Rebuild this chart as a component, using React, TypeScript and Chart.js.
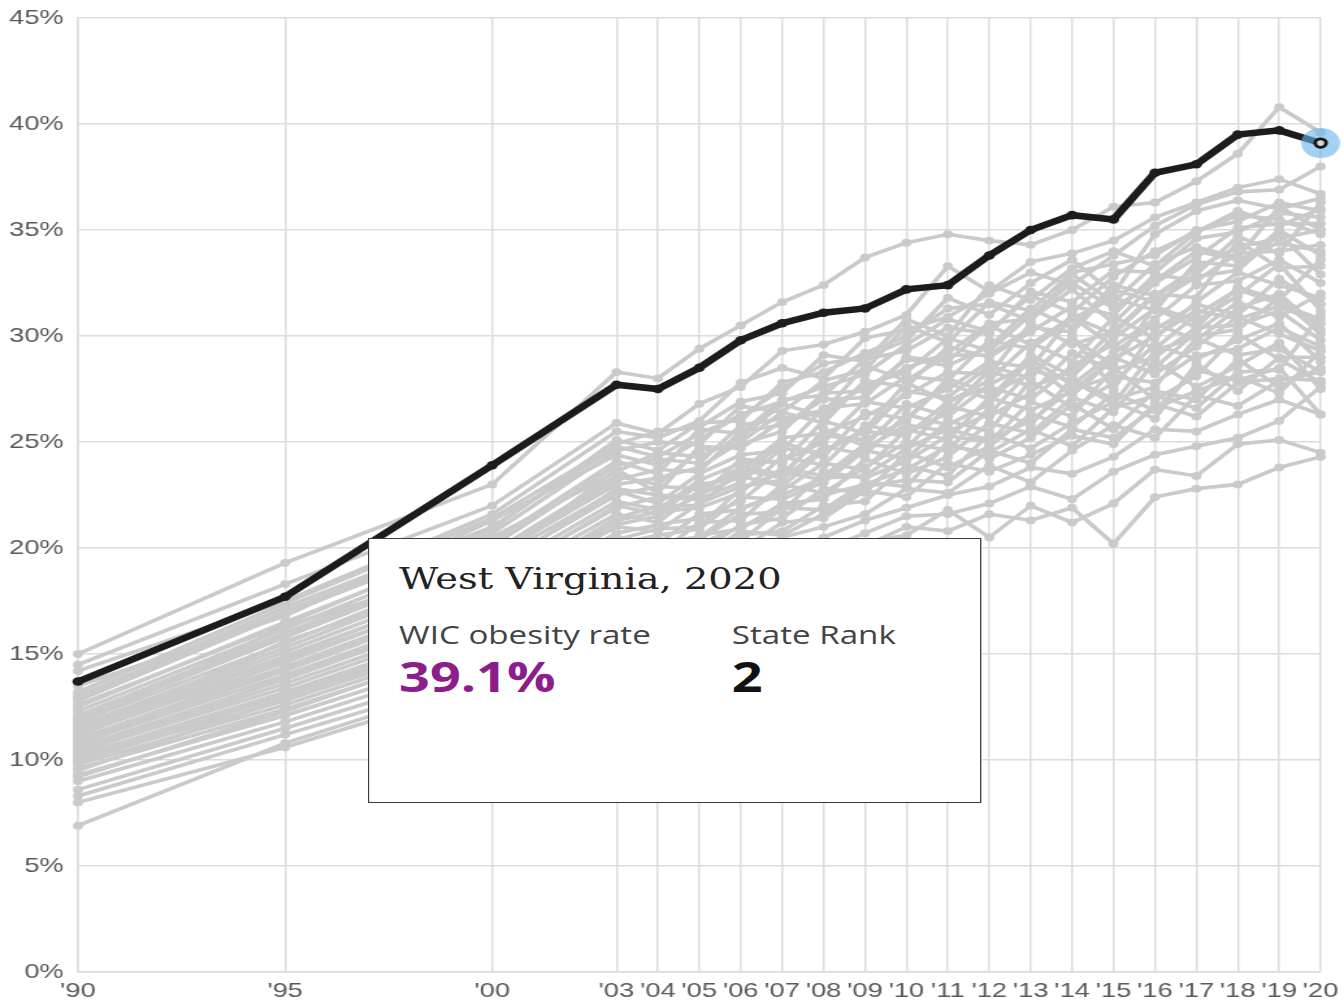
import { useEffect, useRef } from "react";
import { Chart, registerables } from "chart.js";

Chart.register(...registerables);

// ---------- data ----------
const years = [
  1990, 1995, 2000, 2003, 2004, 2005, 2006, 2007, 2008, 2009, 2010, 2011,
  2012, 2013, 2014, 2015, 2016, 2017, 2018, 2019, 2020,
];
const xTickYears = years;
const yTickValues = [0, 5, 10, 15, 20, 25, 30, 35, 40, 45];

const westVirginia = [
  13.7, 17.7, 23.9, 27.7, 27.5, 28.5, 29.8, 30.6, 31.1, 31.3, 32.2, 32.4,
  33.8, 35.0, 35.7, 35.5, 37.7, 38.1, 39.5, 39.7, 39.1,
];

const otherStates: number[][] = [
  [15.0, 19.3, 23.0, 28.3, 28.0, 29.4, 30.5, 31.6, 32.4, 33.7, 34.4, 34.8, 34.5, 34.3, 35.0, 36.1, 36.3, 37.3, 38.6, 40.8, 39.6],
  [14.5, 18.3, 22.0, 25.9, 25.4, 26.8, 27.6, 29.3, 29.6, 30.2, 31.0, 33.3, 32.1, 33.5, 33.9, 34.5, 35.6, 36.3, 37.0, 37.4, 36.7],
  [14.2, 17.5, 21.6, 25.5, 25.2, 26.0, 27.8, 28.5, 28.0, 29.9, 30.3, 30.9, 32.0, 33.0, 32.4, 33.8, 35.2, 36.2, 36.8, 36.9, 38.0],
  [13.0, 17.2, 21.0, 24.8, 24.3, 25.4, 26.2, 27.5, 28.7, 29.0, 29.8, 31.8, 31.0, 32.5, 33.6, 32.0, 34.8, 35.9, 36.4, 36.0, 36.5],
  [12.8, 16.9, 20.7, 24.6, 25.0, 24.9, 26.7, 26.4, 27.9, 28.4, 30.5, 29.7, 31.6, 31.2, 33.0, 33.4, 33.8, 35.0, 35.4, 36.3, 35.9],
  [12.5, 16.5, 20.3, 24.1, 23.5, 25.6, 25.4, 27.0, 27.2, 28.9, 29.3, 30.4, 30.1, 32.1, 31.6, 33.1, 33.0, 34.6, 34.9, 35.8, 35.6],
  [12.3, 16.2, 20.1, 23.9, 24.2, 24.0, 25.8, 26.1, 26.5, 27.6, 28.5, 29.2, 30.6, 30.8, 32.2, 30.6, 32.5, 33.7, 35.1, 35.3, 35.3],
  [12.1, 16.0, 19.8, 23.4, 23.0, 24.6, 24.9, 25.5, 27.3, 27.4, 28.9, 28.6, 29.5, 31.3, 30.4, 32.4, 31.9, 33.2, 34.2, 34.6, 35.0],
  [11.9, 15.8, 19.6, 23.0, 23.3, 23.8, 25.0, 26.4, 25.9, 27.9, 27.6, 29.5, 29.0, 30.2, 31.4, 31.0, 32.9, 32.6, 33.9, 34.0, 34.3],
  [11.8, 15.5, 19.4, 22.7, 22.1, 23.5, 24.4, 24.6, 26.6, 26.8, 28.1, 27.9, 29.8, 29.4, 30.8, 31.8, 31.2, 33.5, 33.3, 35.0, 33.8],
  [11.6, 15.3, 19.1, 22.5, 22.9, 22.8, 23.6, 25.2, 25.4, 26.2, 27.2, 28.3, 28.2, 30.6, 29.6, 30.2, 32.0, 31.8, 34.5, 33.2, 33.3],
  [11.5, 15.1, 18.8, 22.2, 21.8, 23.2, 24.0, 24.1, 25.0, 26.9, 26.6, 27.5, 28.8, 28.5, 30.9, 29.5, 30.8, 32.4, 32.6, 33.6, 32.5],
  [11.3, 14.8, 18.6, 21.9, 22.4, 22.3, 23.1, 24.7, 24.5, 25.6, 27.8, 26.9, 27.9, 29.7, 28.8, 30.9, 29.9, 31.6, 33.0, 32.4, 31.8],
  [11.2, 14.6, 18.3, 21.6, 21.2, 22.7, 23.8, 23.5, 25.3, 25.1, 26.0, 28.0, 27.3, 28.2, 29.9, 28.6, 31.4, 30.7, 31.9, 33.4, 31.2],
  [11.0, 14.4, 18.0, 21.3, 21.7, 21.9, 22.6, 24.3, 23.9, 25.8, 25.4, 26.4, 28.4, 27.6, 28.3, 30.3, 29.4, 31.0, 32.2, 31.5, 30.8],
  [10.9, 14.2, 17.8, 21.0, 20.8, 22.1, 22.9, 23.2, 24.8, 24.4, 26.3, 25.8, 26.8, 28.9, 27.7, 29.2, 30.6, 29.8, 31.3, 32.0, 30.3],
  [10.8, 14.0, 17.5, 20.7, 21.1, 21.4, 22.2, 23.8, 23.4, 24.9, 24.7, 26.7, 26.2, 27.3, 29.2, 28.4, 29.0, 30.4, 30.5, 31.2, 29.8],
  [10.6, 13.8, 17.3, 20.5, 20.2, 21.6, 21.8, 22.7, 24.0, 23.7, 25.6, 25.1, 27.1, 26.5, 27.4, 29.0, 28.2, 29.5, 30.9, 30.1, 29.3],
  [10.5, 13.6, 17.0, 20.2, 20.6, 20.9, 22.4, 22.3, 23.1, 24.6, 24.2, 26.0, 25.5, 27.9, 26.6, 27.8, 29.6, 28.9, 29.8, 30.6, 28.8],
  [10.4, 13.4, 16.8, 19.9, 19.7, 21.2, 21.3, 23.0, 22.6, 23.8, 25.0, 24.6, 26.6, 25.8, 28.0, 27.0, 27.6, 29.9, 29.1, 29.4, 28.3],
  [10.2, 13.2, 16.5, 19.6, 20.0, 20.4, 21.6, 21.7, 23.6, 23.3, 24.1, 25.3, 25.0, 26.9, 26.2, 28.5, 27.0, 28.1, 30.1, 28.9, 27.8],
  [10.1, 13.0, 16.3, 19.3, 19.2, 20.6, 20.9, 22.1, 22.3, 24.2, 23.5, 24.3, 25.9, 25.4, 27.1, 26.4, 28.8, 27.6, 28.6, 29.7, 27.5],
  [10.0, 12.8, 16.0, 19.0, 19.5, 19.8, 21.1, 21.4, 22.8, 22.6, 24.5, 23.8, 24.8, 26.3, 25.7, 27.3, 26.5, 28.4, 27.9, 28.5, 26.3],
  [9.8, 12.6, 15.8, 18.7, 18.6, 20.1, 20.3, 21.9, 21.8, 23.1, 22.9, 25.0, 24.2, 25.2, 26.8, 25.6, 27.4, 27.0, 28.9, 27.6, 28.5],
  [9.6, 12.4, 15.5, 18.4, 19.0, 19.3, 20.6, 20.8, 22.0, 22.2, 23.9, 23.4, 25.4, 24.7, 25.9, 26.9, 26.1, 28.7, 27.4, 29.0, 29.0],
  [9.3, 12.1, 15.2, 18.0, 18.3, 19.6, 19.9, 21.2, 21.4, 22.7, 22.4, 24.0, 23.6, 24.4, 25.3, 24.9, 26.8, 26.2, 27.8, 28.0, 27.9],
  [9.0, 11.8, 14.9, 17.6, 17.9, 18.8, 19.6, 20.5, 21.0, 21.6, 22.8, 22.6, 23.9, 23.1, 24.6, 25.8, 25.2, 27.2, 26.7, 27.9, 28.3],
  [8.6, 11.5, 14.5, 17.2, 17.5, 18.3, 19.2, 19.9, 20.5, 21.3, 21.9, 22.5, 22.9, 23.8, 23.5, 24.3, 25.6, 25.5, 26.3, 27.0, 26.3],
  [8.3, 11.2, 14.1, 16.8, 17.0, 17.8, 18.5, 19.4, 19.9, 20.7, 21.5, 21.6, 22.1, 22.9, 22.3, 23.6, 24.4, 24.8, 25.2, 26.0, 27.6],
  [8.0, 10.6, 13.6, 16.4, 16.7, 17.3, 18.1, 18.8, 19.5, 20.1, 21.0, 20.8, 21.6, 21.3, 21.9, 20.2, 22.4, 22.8, 23.0, 23.8, 24.3],
  [6.9, 10.8, 13.9, 16.2, 16.6, 17.6, 18.0, 19.1, 19.3, 20.3, 20.6, 21.8, 20.5, 22.0, 21.2, 22.1, 23.7, 23.4, 24.9, 25.1, 24.5],
  [13.5, 16.8, 21.3, 24.4, 23.9, 25.1, 26.3, 26.9, 27.6, 28.2, 29.6, 30.8, 30.2, 31.9, 31.1, 32.8, 34.0, 34.9, 35.7, 35.5, 34.8],
  [12.9, 17.0, 20.9, 25.1, 24.6, 25.9, 26.0, 27.8, 28.3, 29.2, 30.0, 31.3, 31.5, 30.7, 32.9, 31.6, 33.4, 34.2, 33.7, 36.1, 35.0],
  [12.0, 15.9, 19.7, 23.2, 23.7, 23.6, 25.5, 25.8, 27.0, 27.1, 29.0, 28.8, 30.5, 29.6, 30.9, 30.1, 31.9, 32.9, 34.7, 33.9, 36.3],
  [11.4, 14.9, 18.5, 22.0, 21.6, 23.0, 23.3, 25.0, 24.3, 26.4, 26.1, 27.8, 27.0, 29.1, 28.1, 29.9, 31.3, 30.4, 32.3, 31.7, 33.6],
  [11.1, 15.6, 18.9, 22.8, 22.5, 22.4, 24.2, 24.0, 26.0, 25.4, 27.4, 27.1, 28.6, 28.0, 30.0, 27.5, 30.3, 31.5, 31.0, 32.7, 31.5],
  [10.7, 14.7, 18.2, 21.1, 21.5, 22.5, 23.4, 22.9, 24.6, 25.5, 25.3, 26.9, 27.6, 27.0, 28.6, 29.6, 28.5, 30.2, 31.6, 30.9, 32.0],
  [10.3, 13.9, 17.4, 20.4, 20.9, 21.0, 22.8, 23.6, 23.2, 24.7, 25.8, 25.5, 26.3, 28.4, 27.9, 26.8, 29.3, 30.0, 30.3, 31.8, 30.1],
  [9.9, 13.1, 16.6, 19.7, 20.3, 20.5, 21.9, 22.5, 23.3, 23.4, 24.7, 25.6, 25.1, 26.0, 27.5, 28.1, 27.8, 29.1, 29.4, 30.4, 29.5],
  [9.5, 12.9, 16.1, 19.1, 19.4, 20.2, 21.0, 21.8, 22.5, 23.0, 23.7, 24.8, 24.5, 25.6, 24.8, 26.6, 27.2, 26.6, 28.3, 28.4, 31.0],
  [12.6, 16.4, 20.5, 23.6, 24.5, 24.3, 25.2, 26.8, 26.2, 27.7, 28.3, 29.9, 29.3, 31.0, 32.5, 31.3, 32.6, 34.0, 33.6, 34.4, 34.0],
  [13.2, 17.4, 21.4, 24.9, 25.5, 25.7, 26.9, 27.3, 29.1, 28.8, 30.8, 30.0, 32.4, 31.7, 33.2, 34.0, 33.3, 34.9, 35.9, 35.2, 36.0],
  [11.7, 16.3, 19.3, 23.7, 22.6, 24.8, 24.7, 26.0, 26.4, 28.6, 27.9, 29.1, 29.1, 30.4, 30.2, 32.2, 31.6, 32.8, 33.1, 34.8, 32.9],
  [10.9, 14.3, 17.9, 21.4, 22.0, 22.0, 23.7, 23.3, 25.6, 24.8, 26.8, 26.2, 27.7, 28.7, 27.2, 28.9, 30.0, 31.2, 30.8, 31.4, 30.6],
  [9.2, 12.3, 15.7, 18.9, 18.8, 19.5, 20.8, 20.6, 21.6, 22.9, 23.2, 23.1, 24.6, 24.0, 25.6, 25.2, 26.6, 27.4, 28.1, 27.3, 29.3],
];

const tooltipState = "West Virginia";
const tooltipYear = 2020;
const tooltipRateLabel = "WIC obesity rate";
const tooltipRankLabel = "State Rank";
const tooltipRank = 2;

// ---------- layout (unstretched coordinates, the whole picture is stretched horizontally) ----------
const W = 1034;
const H = 1006;
const STRETCH = 1344 / W;

export default function App() {
  const canvasRef = useRef<HTMLCanvasElement | null>(null);

  useEffect(() => {
    document.body.style.margin = "0";
    document.body.style.overflow = "hidden";
    const canvas = canvasRef.current;
    if (!canvas) return;

    const toPoints = (row: number[]) => years.map((x, i) => ({ x, y: row[i] }));
    const last = years.length - 1;
    const highlight = [{ x: years[last], y: westVirginia[last] }];

    const grayDatasets = otherStates.map((row) => ({
      data: toPoints(row),
      borderColor: "#cacaca",
      backgroundColor: "#cacaca",
      borderWidth: 3.6,
      pointRadius: 3.9,
      pointBackgroundColor: "#cacaca",
      pointBorderWidth: 0,
      order: 10,
      clip: false as const,
    }));

    const chart = new Chart(canvas, {
      type: "line",
      data: {
        datasets: [
          ...grayDatasets,
          {
            data: toPoints(westVirginia),
            borderColor: "#1c1c1c",
            backgroundColor: "#1c1c1c",
            borderWidth: 6.5,
            pointRadius: 4.3,
            pointBackgroundColor: "#1c1c1c",
            pointBorderWidth: 0,
            order: 3,
            clip: false as const,
          },
          {
            data: highlight,
            showLine: false,
            pointRadius: 15,
            pointBackgroundColor: "rgba(105,182,235,0.62)",
            pointBorderWidth: 0,
            order: 2,
            clip: false as const,
          },
          {
            data: highlight,
            showLine: false,
            pointRadius: 4.2,
            pointBackgroundColor: "#d9d9d9",
            pointBorderColor: "#151515",
            pointBorderWidth: 2.8,
            order: 1,
            clip: false as const,
          },
        ],
      } as any,
      options: {
        responsive: false,
        animation: false,
        events: [],
        layout: { padding: { top: 18, right: 18, left: 0, bottom: 0 } },
        plugins: { legend: { display: false }, tooltip: { enabled: false } },
        elements: { line: { tension: 0 } },
        scales: {
          x: {
            type: "linear",
            min: 1990,
            max: 2020,
            afterBuildTicks: (s: any) => {
              s.ticks = xTickYears.map((v) => ({ value: v }));
            },
            afterFit: (s: any) => {
              s.height = H - 972;
              s.paddingLeft = 0;
              s.paddingRight = 0;
            },
            grid: { color: "#dcdcdc", lineWidth: 1.5, drawTicks: false },
            border: { color: "#dcdcdc", width: 1.5 },
            ticks: {
              autoSkip: false,
              maxRotation: 0,
              minRotation: 0,
              padding: 7,
              color: "#5a5a5a",
              font: { family: '"Liberation Sans", Arial, sans-serif', size: 21 },
              callback: (v: any) => "'" + String(v).slice(2),
            },
          },
          y: {
            type: "linear",
            min: 0,
            max: 45,
            afterBuildTicks: (s: any) => {
              s.ticks = yTickValues.map((v) => ({ value: v }));
            },
            afterFit: (s: any) => {
              s.width = 60;
              s.paddingTop = 0;
              s.paddingBottom = 0;
            },
            grid: { color: "#dcdcdc", lineWidth: 1.5, drawTicks: false },
            border: { color: "#dcdcdc", width: 1.5 },
            ticks: {
              padding: 11,
              color: "#5a5a5a",
              font: { family: '"Liberation Sans", Arial, sans-serif', size: 21 },
              callback: (v: any) => v + "%",
            },
          },
        },
      } as any,
    });

    return () => chart.destroy();
  }, []);

  const rate = westVirginia[westVirginia.length - 1].toFixed(1) + "%";

  const textBase: React.CSSProperties = {
    position: "absolute",
    whiteSpace: "nowrap",
    margin: 0,
  };

  return (
    <div
      style={{
        position: "relative",
        width: W,
        height: H,
        transform: `scaleX(${STRETCH})`,
        transformOrigin: "0 0",
        background: "#fff",
      }}
    >
      <canvas ref={canvasRef} width={W} height={H} style={{ display: "block" }} />
      <div
        style={{
          position: "absolute",
          left: 283,
          top: 538,
          width: 472,
          height: 265,
          boxSizing: "border-box",
          border: "1.5px solid #3a3a3a",
          background: "#ffffff",
        }}
      />
      <div
        style={{
          ...textBase,
          left: 307,
          top: 565,
          fontFamily: '"DejaVu Serif", Georgia, serif',
          fontSize: 29.5,
          lineHeight: "29.5px",
          color: "#222",
        }}
      >
        {tooltipState}, {tooltipYear}
      </div>
      <div
        style={{
          ...textBase,
          left: 307,
          top: 622,
          fontFamily: '"Open Sans", sans-serif',
          fontSize: 25.5,
          lineHeight: "25.5px",
          color: "#444",
        }}
      >
        {tooltipRateLabel}
      </div>
      <div
        style={{
          ...textBase,
          left: 307,
          top: 656,
          fontFamily: '"Open Sans", sans-serif',
          fontWeight: 700,
          fontSize: 41.5,
          lineHeight: "41.5px",
          color: "#8b1e8b",
        }}
      >
        {rate}
      </div>
      <div
        style={{
          ...textBase,
          left: 563,
          top: 622,
          fontFamily: '"Open Sans", sans-serif',
          fontSize: 25.5,
          lineHeight: "25.5px",
          color: "#444",
        }}
      >
        {tooltipRankLabel}
      </div>
      <div
        style={{
          ...textBase,
          left: 563,
          top: 656,
          fontFamily: '"Open Sans", sans-serif',
          fontWeight: 700,
          fontSize: 41.5,
          lineHeight: "41.5px",
          color: "#111",
        }}
      >
        {tooltipRank}
      </div>
    </div>
  );
}
